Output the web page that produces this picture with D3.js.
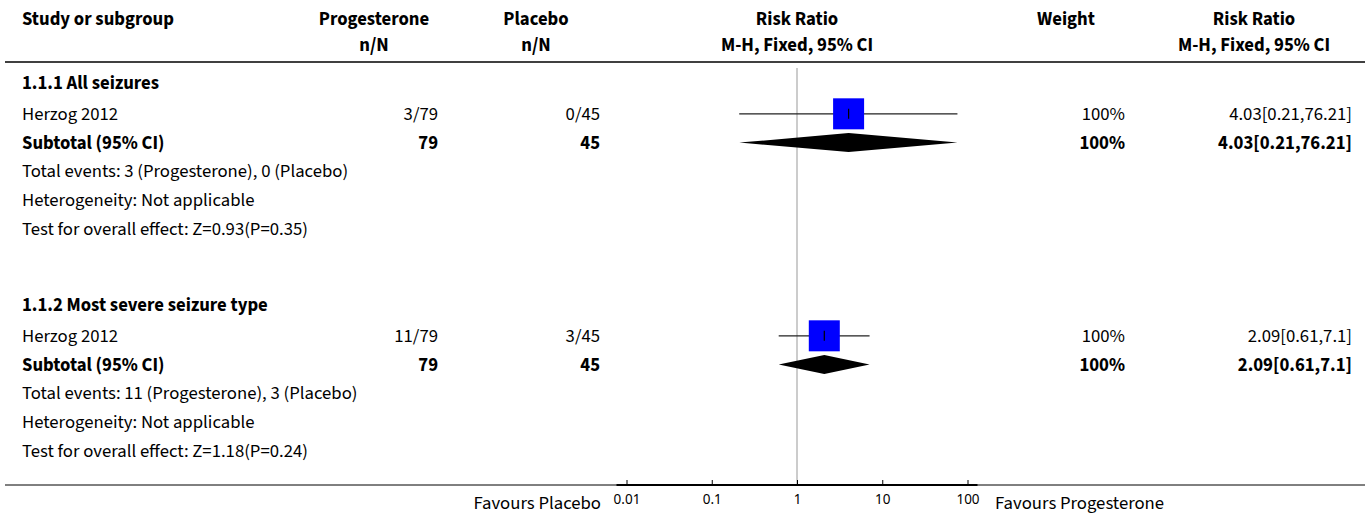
<!DOCTYPE html>
<html><head><meta charset="utf-8">
<script src="https://cdn.jsdelivr.net/npm/d3@7"></script>
<style>
body{margin:0;background:#fff;}
svg text.main{font-family:"Source Sans Pro","Source Sans 3",Lato,sans-serif;fill:#000;}
</style></head>
<body><svg id="c" width="1370" height="517"></svg>
<script>
// ---- data ----
const headers1 = ["Study or subgroup","Progesterone","Placebo","Risk Ratio","Weight","Risk Ratio"];
const headers2 = ["","n/N","n/N","M-H, Fixed, 95% CI","","M-H, Fixed, 95% CI"];
const subgroups = ["1.1.1 All seizures","1.1.2 Most severe seizure type"];
const studyNames = ["Herzog 2012","Herzog 2012"];
const progEvents = ["3/79","11/79"];
const placEvents = ["0/45","3/45"];
const rrEst = [4.03, 2.09];
const rrLow = [0.21, 0.61];
const rrHigh = [76.21, 7.1];
const studyWeights = ["100%","100%"];
const studyCI = ["4.03[0.21,76.21]","2.09[0.61,7.1]"];
const subtotalProg = ["79","79"];
const subtotalPlac = ["45","45"];
const subtotalWeights = ["100%","100%"];
const subtotalCI = ["4.03[0.21,76.21]","2.09[0.61,7.1]"];
const totalEvents = ["Total events: 3 (Progesterone), 0 (Placebo)","Total events: 11 (Progesterone), 3 (Placebo)"];
const heterogeneity = ["Heterogeneity: Not applicable","Heterogeneity: Not applicable"];
const overallEffect = ["Test for overall effect: Z=0.93(P=0.35)","Test for overall effect: Z=1.18(P=0.24)"];
const axisTicks = [0.01, 0.1, 1, 10, 100];
const favours = ["Favours Placebo","Favours Progesterone"];

// ---- layout ----
const svg = d3.select("#c");
const FS = 18.7;
const x = d3.scaleLog().domain([0.01, 100]).range([626.5, 967.5]);
const colStudy = 22, colProgR = 438, colPlacR = 600, colProgC = 374, colPlacC = 536,
      colRR = x(1), colWC = 1066, colWR = 1125, colCIC = 1254, colCIR = 1352;
const groupTop = [83, 305];
const slotY = d3.scaleLinear().domain([0, 1]).range([0, 28.8]);
const slotOffsets = [0, 1.07, 2.07, 3.07, 4.05, 5.07];
const rowY = (g, k) => groupTop[g] + slotY(slotOffsets[k]);
const axisY = 485;

function txt(xp, yp, s, anchor, bold, size) {
  svg.append("text").attr("class","main").attr("x", xp).attr("y", yp).attr("dominant-baseline", "central")
    .attr("text-anchor", anchor || "start").attr("font-weight", bold ? "bold" : "normal")
    .attr("font-size", size || FS).text(s);
}

// headers
const hx = [colStudy, colProgC, colPlacC, colRR, colWC, colCIC];
const ha = ["start","middle","middle","middle","middle","middle"];
headers1.forEach((h,i)=>txt(hx[i], 19, h, ha[i], true));
headers2.forEach((h,i)=>{ if(h) txt(hx[i], 45, h, ha[i], true); });
svg.append("line").attr("x1",5).attr("x2",1365).attr("y1",62).attr("y2",62)
   .attr("stroke","#000").attr("stroke-width",1.5);

// vertical null line
svg.append("line").attr("x1",x(1)).attr("x2",x(1)).attr("y1",68).attr("y2",axisY)
   .attr("stroke","#999").attr("stroke-width",1);

subgroups.forEach((sg,g)=>{
  txt(colStudy, rowY(g,0), sg, "start", true);
  const ys = rowY(g,1);
  txt(colStudy, ys, studyNames[g]);
  txt(colProgR, ys, progEvents[g], "end");
  txt(colPlacR, ys, placEvents[g], "end");
  txt(colWR, ys, studyWeights[g], "end");
  txt(colCIR, ys, studyCI[g], "end");
  // CI line
  svg.append("line").attr("x1",x(rrLow[g])).attr("x2",x(rrHigh[g])).attr("y1",ys).attr("y2",ys)
     .attr("stroke","#222").attr("stroke-width",1.3);
  const sq = 31;
  svg.append("rect").attr("x",x(rrEst[g])-sq/2).attr("y",ys-sq/2).attr("width",sq).attr("height",sq)
     .attr("fill","#0000ff");
  svg.append("line").attr("x1",x(rrEst[g])).attr("x2",x(rrEst[g])).attr("y1",ys-5).attr("y2",ys+5)
     .attr("stroke","#000").attr("stroke-width",1.2);
  const yt = rowY(g,2);
  txt(colStudy, yt, "Subtotal (95% CI)", "start", true);
  txt(colProgR, yt, subtotalProg[g], "end", true);
  txt(colPlacR, yt, subtotalPlac[g], "end", true);
  txt(colWR, yt, subtotalWeights[g], "end", true);
  txt(colCIR, yt, subtotalCI[g], "end", true);
  const h = 9.5;
  svg.append("path").attr("d",
     `M${x(rrLow[g])},${yt} L${x(rrEst[g])},${yt-h} L${x(rrHigh[g])},${yt} L${x(rrEst[g])},${yt+h} Z`)
     .attr("fill","#000");
  txt(colStudy, rowY(g,3), totalEvents[g]);
  txt(colStudy, rowY(g,4), heterogeneity[g]);
  txt(colStudy, rowY(g,5), overallEffect[g]);
});

// bottom axis
svg.append("line").attr("x1",5).attr("x2",1365).attr("y1",axisY).attr("y2",axisY)
   .attr("stroke","#000").attr("stroke-width",1);
const ax = svg.append("g").attr("transform",`translate(0,${axisY})`)
   .call(d3.axisBottom(x).tickValues(axisTicks).tickFormat(d=>String(d)).tickSizeInner(-5).tickSizeOuter(0).tickPadding(9));
ax.select(".domain").remove();
ax.selectAll(".tick line").attr("stroke","#000");
ax.selectAll(".tick text").style("font-size","13.5px").style("font-family","'Noto Sans',sans-serif").attr("fill","#000");
svg.append("line").attr("x1",x(0.01)-10).attr("x2",x(100)+10).attr("y1",axisY).attr("y2",axisY)
   .attr("stroke","#000").attr("stroke-width",2);
txt(601, 503, favours[0], "end");
txt(995, 503, favours[1], "start");
</script></body></html>
